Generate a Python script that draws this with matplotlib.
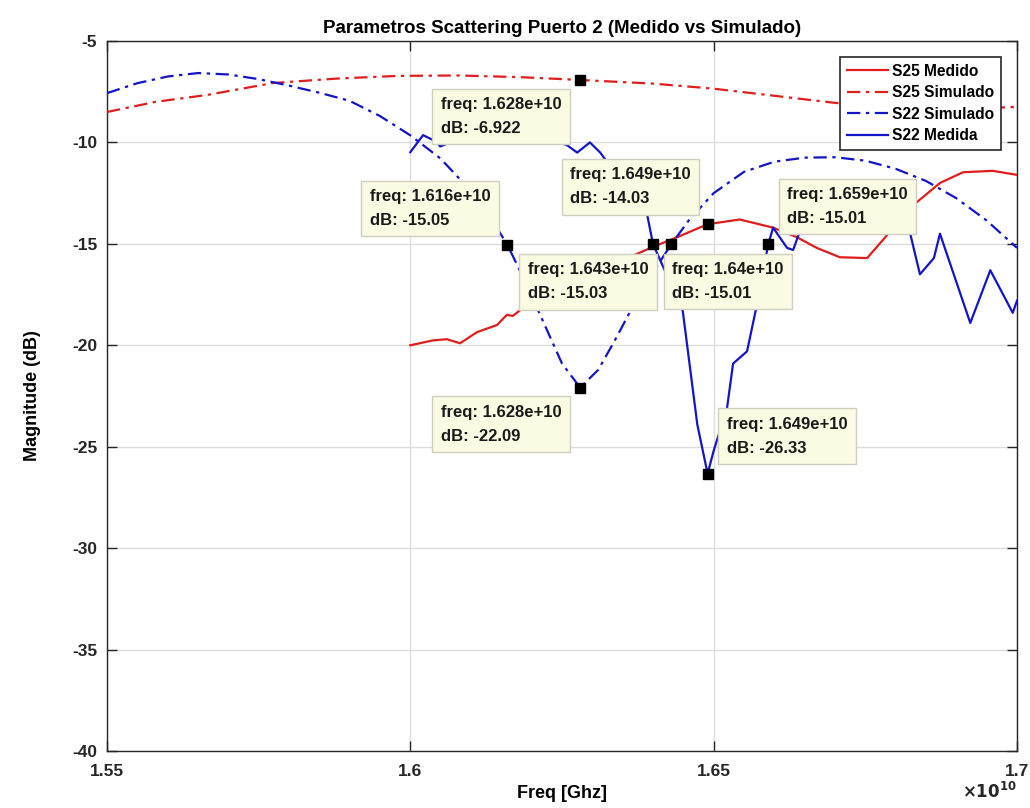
import matplotlib
matplotlib.use("Agg")
import matplotlib.pyplot as plt
from matplotlib.ticker import FixedLocator, FuncFormatter

plt.rcParams['font.family'] = ['Liberation Sans', 'DejaVu Sans']
plt.rcParams['font.weight'] = 'bold'
plt.rcParams['axes.unicode_minus'] = False

# ---- data (frequency in units of 1e10 Hz, magnitude in dB) ----
f_s25_med = [1.6000, 1.6037, 1.6060, 1.6082, 1.6110, 1.6143, 1.6159, 1.6169, 1.6184,
             1.6200, 1.6250, 1.6300, 1.6350, 1.6400, 1.6440, 1.6490, 1.6543, 1.6598,
             1.6637, 1.6670, 1.6708, 1.6753, 1.6785, 1.6819, 1.6873, 1.6911, 1.6960, 1.7000]
db_s25_med = [-20.0, -19.76, -19.7, -19.9, -19.35, -19.0, -18.5, -18.55, -18.2,
              -17.9, -17.2, -16.5, -15.8, -15.15, -14.67, -14.03, -13.8, -14.2,
              -14.67, -15.2, -15.66, -15.7, -14.6, -13.34, -12.0, -11.47, -11.4, -11.6]

f_s25_sim = [1.550, 1.558, 1.5665, 1.5774, 1.588, 1.598, 1.608, 1.618, 1.628,
             1.640, 1.650, 1.660, 1.670, 1.680, 1.690, 1.700]
db_s25_sim = [-8.5, -8.0, -7.66, -7.07, -6.85, -6.72, -6.7, -6.78, -6.922,
              -7.1, -7.35, -7.7, -8.05, -8.3, -8.35, -8.25]

f_s22_sim = [1.550, 1.555, 1.560, 1.565, 1.570, 1.575, 1.580, 1.585, 1.590, 1.595,
             1.600, 1.605, 1.610, 1.613, 1.616, 1.619, 1.622, 1.625, 1.628, 1.631,
             1.634, 1.637, 1.640, 1.643, 1.646, 1.650, 1.655, 1.660, 1.665, 1.670,
             1.675, 1.680, 1.685, 1.690, 1.695, 1.700]
db_s22_sim = [-7.57, -7.08, -6.75, -6.58, -6.65, -6.88, -7.2, -7.55, -7.95, -8.7,
              -9.65, -10.8, -12.4, -13.6, -15.05, -16.9, -18.9, -20.9, -22.09, -21.2,
              -19.6, -17.9, -16.4, -15.03, -13.8, -12.5, -11.45, -10.95, -10.75, -10.73,
              -10.9, -11.3, -11.9, -12.75, -13.85, -15.2]

f_s22_med = [1.6000, 1.6021, 1.6044, 1.6049, 1.6100, 1.6150, 1.6200, 1.6258, 1.6275,
             1.6296, 1.6313, 1.6350, 1.6390, 1.6400, 1.6449, 1.6473, 1.6490, 1.6500,
             1.6522, 1.6532, 1.6555, 1.6572, 1.6590, 1.6598, 1.6621, 1.6631, 1.6643,
             1.6680, 1.6740, 1.6790, 1.6824, 1.6840, 1.6863, 1.6873, 1.6923, 1.6956,
             1.6993, 1.7000]
db_s22_med = [-10.48, -9.64, -9.98, -10.2, -9.6, -9.3, -9.6, -10.13, -10.5,
              -10.0, -10.5, -12.0, -13.5, -15.01, -18.3, -23.9, -26.33, -25.2,
              -23.1, -20.9, -20.3, -17.9, -15.01, -14.2, -15.2, -15.3, -14.3,
              -13.0, -12.6, -13.3, -14.5, -16.5, -15.7, -14.5, -18.9, -16.3,
              -18.4, -17.8]

x_ticks = [1.55, 1.60, 1.65, 1.70]
y_ticks = [-40, -35, -30, -25, -20, -15, -10, -5]

# data tips on the curves
tip_freq = [1.628, 1.616, 1.649, 1.643, 1.640, 1.659, 1.628, 1.649]
tip_db = [-6.922, -15.05, -14.03, -15.03, -15.01, -15.01, -22.09, -26.33]
tip_freq_text = ['1.628e+10', '1.616e+10', '1.649e+10', '1.643e+10',
                 '1.64e+10', '1.659e+10', '1.628e+10', '1.649e+10']
tip_db_text = ['-6.922', '-15.05', '-14.03', '-15.03', '-15.01', '-15.01', '-22.09', '-26.33']
tip_offset = [(-19, -17), (-17, 17), (-17, 18), (-23, -18),
              (19, -18), (19, 18), (-19, -17), (19, 18)]
tip_ha = ['right', 'right', 'right', 'right', 'left', 'left', 'right', 'left']
tip_va = ['top', 'bottom', 'bottom', 'top', 'top', 'bottom', 'top', 'bottom']

scale = 1e10
red = '#e01e1e'
blue = '#1414c8'

fig = plt.figure(figsize=(10.30, 8.08), dpi=100)
ax = fig.add_axes([107 / 1030, 1 - 751 / 808, 910 / 1030, 710 / 808])

dashdot = (0, (6, 2.5, 1.5, 2.5))
ax.plot([f * scale for f in f_s25_med], db_s25_med, color=red, lw=1.6,
        label='S25 Medido', zorder=3)
ax.plot([f * scale for f in f_s25_sim], db_s25_sim, color=red, lw=1.6,
        linestyle=dashdot, label='S25 Simulado', zorder=3)
ax.plot([f * scale for f in f_s22_sim], db_s22_sim, color=blue, lw=1.6,
        linestyle=dashdot, label='S22 Simulado', zorder=3)
ax.plot([f * scale for f in f_s22_med], db_s22_med, color=blue, lw=1.6,
        label='S22 Medida', zorder=3)

ax.set_xlim(x_ticks[0] * scale, x_ticks[-1] * scale)
ax.set_ylim(y_ticks[0], y_ticks[-1])
ax.xaxis.set_major_locator(FixedLocator([t * scale for t in x_ticks]))
ax.xaxis.set_major_formatter(FuncFormatter(lambda v, p: f'{v / scale:g}'))
ax.set_yticks(y_ticks)
ax.text(1.0, -0.042, r'$\times\mathbf{10^{10}}$', transform=ax.transAxes,
        ha='right', va='top', fontsize=12, color='#262626')

ax.grid(True, color='#dcdcdc', lw=1.0, zorder=0)
ax.set_axisbelow(True)
ax.tick_params(direction='in', top=True, right=True, length=7, width=1,
               labelsize=12.5, colors='#262626')
ax.tick_params(axis='x', pad=9)
ax.tick_params(axis='y', pad=7)
for s in ax.spines.values():
    s.set_color('#262626')
    s.set_linewidth(1.0)

ax.set_title('Parametros Scattering Puerto 2 (Medido vs Simulado)',
             fontsize=13.5, fontweight='bold', pad=6)
ax.set_xlabel('Freq [Ghz]', fontsize=13, fontweight='bold', labelpad=5)
ax.set_ylabel('Magnitude (dB)', fontsize=13, fontweight='bold', labelpad=22)

leg = ax.legend(loc='upper right', fontsize=11.2, frameon=True, fancybox=False,
                edgecolor='#262626', framealpha=1, borderaxespad=1.0,
                handlelength=2.6, handletextpad=0.3, labelspacing=0.42,
                borderpad=0.45)
leg.get_frame().set_linewidth(1.2)
leg.set_zorder(6)

for f, d, ft, dt, off, ha, va in zip(tip_freq, tip_db, tip_freq_text, tip_db_text,
                                     tip_offset, tip_ha, tip_va):
    ax.plot(f * scale, d, marker='s', color='black', markersize=7.8, zorder=5,
            linestyle='none')
    ax.annotate(f'freq: {ft}\ndB: {dt}', xy=(f * scale, d), xytext=off,
                textcoords='offset pixels', ha=ha, va=va, multialignment='left',
                fontsize=12, fontweight='bold', color='#1a1a1a', linespacing=1.75,
                zorder=4,
                bbox=dict(boxstyle='square,pad=0.5', facecolor='#fbfbe3',
                          edgecolor='#cfcfc0', lw=1.0))

fig.savefig('out.png', dpi=100)
